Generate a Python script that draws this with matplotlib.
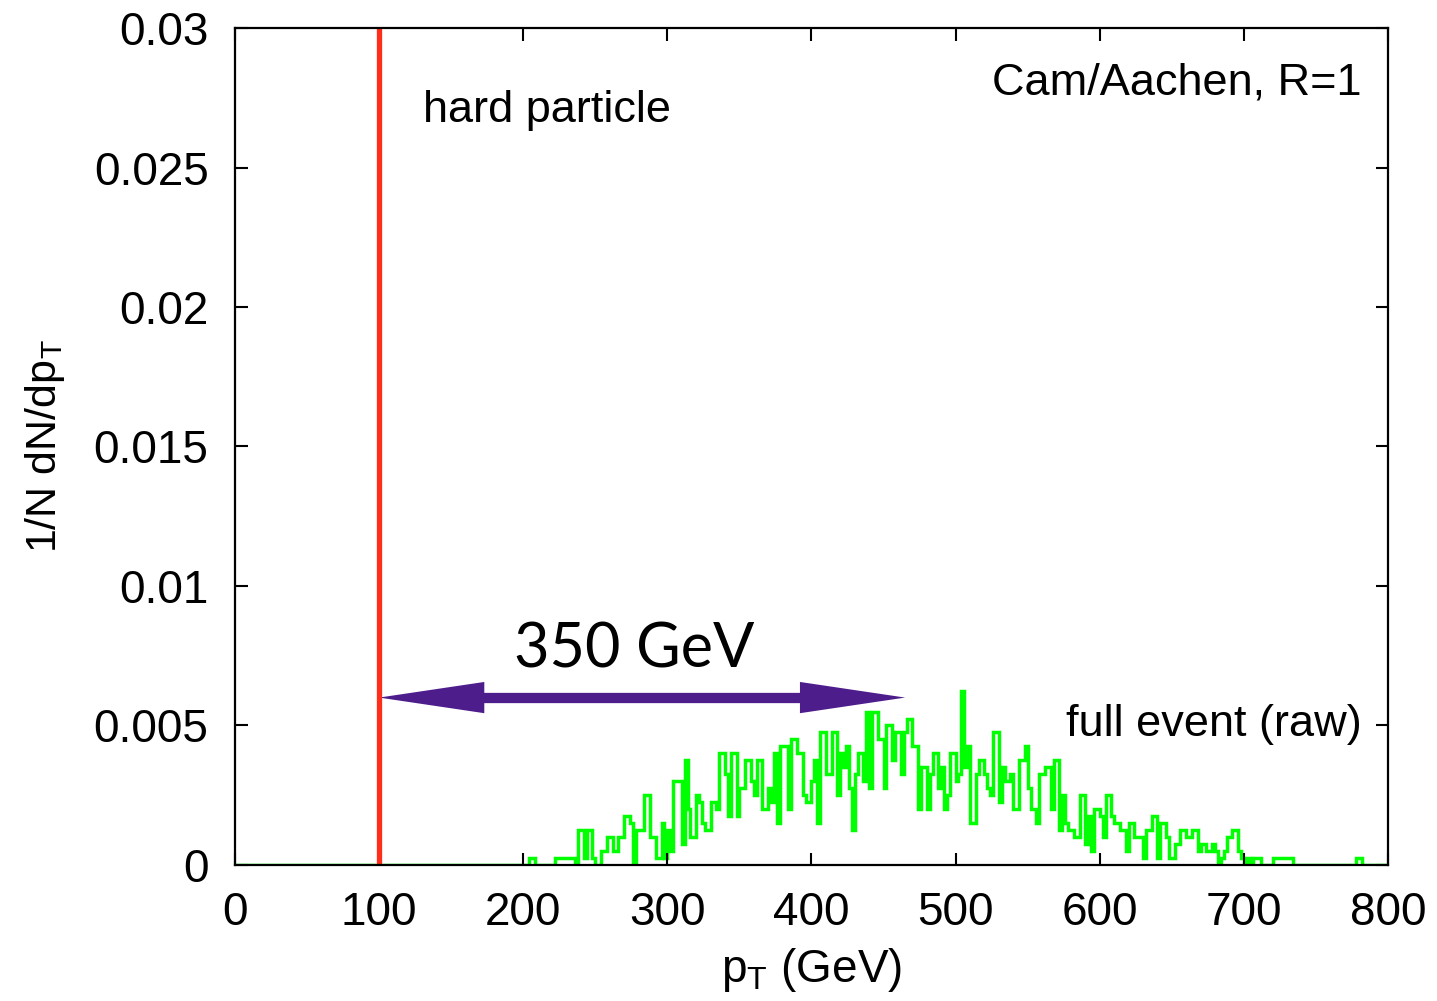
import numpy as np
import matplotlib
matplotlib.use('Agg')
import matplotlib.pyplot as plt
from matplotlib.patches import FancyArrow

plt.rcParams['font.family'] = ['Liberation Sans', 'DejaVu Sans']
plt.rcParams['mathtext.default'] = 'regular'

# hard particle pT (GeV)
hard_pt = 100
# arrow: from hard particle to ~ shifted jet pT
arrow_end = 465
arrow_y = 0.006

bin_width = 2
count_unit = 0.00025
counts_below_200 = [0] * 100
counts_from_200 = [
    0, 0, 1, 1, 0, 0, 0, 0, 0, 0,
    0, 1, 1, 1, 1, 1, 1, 1, 0, 5,
    5, 1, 5, 5, 1, 0, 0, 2, 2, 4,
    4, 2, 2, 4, 4, 7, 7, 6, 0, 5,
    5, 5, 10, 10, 4, 4, 1, 1, 6, 1,
    5, 2, 12, 12, 12, 3, 15, 8, 4, 4,
    10, 9, 6, 5, 5, 9, 9, 8, 16, 16,
    13, 7, 16, 16, 7, 11, 11, 15, 15, 12,
    10, 15, 15, 8, 8, 11, 9, 16, 6, 17,
    17, 17, 8, 18, 18, 16, 16, 10, 9, 9,
    12, 15, 6, 19, 19, 13, 13, 19, 19, 10,
    16, 14, 17, 11, 5, 13, 16, 16, 12, 22,
    11, 22, 22, 18, 18, 11, 20, 20, 15, 19,
    19, 13, 19, 21, 21, 17, 17, 8, 14, 14,
    8, 13, 16, 16, 11, 14, 8, 10, 16, 16,
    12, 13, 25, 14, 17, 6, 6, 13, 15, 15,
    13, 11, 10, 19, 19, 9, 14, 12, 12, 13,
    8, 8, 15, 15, 17, 11, 8, 8, 6, 13,
    13, 14, 14, 8, 15, 15, 5, 10, 6, 5,
    5, 4, 4, 10, 10, 3, 7, 2, 8, 8,
    7, 4, 10, 10, 7, 6, 6, 5, 5, 2,
    6, 6, 4, 4, 4, 1, 5, 5, 7, 7,
    1, 6, 6, 4, 1, 1, 3, 3, 5, 5,
    4, 4, 5, 5, 2, 3, 3, 2, 2, 3,
    2, 0, 1, 2, 4, 4, 5, 5, 2, 1,
    0, 1, 0, 1, 1, 1, 0, 0, 0, 0,
    1, 1, 1, 1, 1, 1, 1, 0, 0, 0,
    0, 0, 0, 0, 0, 0, 0, 0, 0, 0,
    0, 0, 0, 0, 0, 0, 0, 0, 0, 1,
    1, 0, 0, 0, 0, 0, 0, 0, 0, 0,
]

xticks = [0, 100, 200, 300, 400, 500, 600, 700, 800]
yticks = [0, 0.005, 0.01, 0.015, 0.02, 0.025, 0.03]
ytick_labels = ['0', '0.005', '0.01', '0.015', '0.02', '0.025', '0.03']

valores = np.array(counts_below_200 + counts_from_200) * count_unit
bordes = np.arange(0, 800 + bin_width, bin_width)

fig = plt.figure(figsize=(14.37, 10.01), dpi=100)
ax = fig.add_axes([0.1635, 0.1359, 0.8024, 0.8361])

ax.stairs(valores, bordes, color='#00ff00', lw=2.5)
ax.plot([hard_pt, hard_pt], [0, 0.03], color='#ff2d1a', lw=3.8, solid_capstyle='butt')

# double headed arrow: shaft as a thick line, heads as filled triangles
color_flecha = '#4e1d8c'
largo_punta = 73
ax.plot([hard_pt + largo_punta - 2, arrow_end - largo_punta + 2], [arrow_y, arrow_y],
        color=color_flecha, lw=7.4, solid_capstyle='butt')
for destino, signo in ((hard_pt, -1), (arrow_end, 1)):
    ax.add_patch(FancyArrow(destino - signo * largo_punta, arrow_y, signo * largo_punta, 0,
                            width=0, head_width=0.00112, head_length=largo_punta,
                            length_includes_head=True, lw=0, color=color_flecha))
ax.text(277, 0.0077, '350 GeV', fontsize=44, family=['Lato', 'DejaVu Sans'],
        ha='center', va='center')

ax.text(130.5, 0.02706, 'hard particle', fontsize=32.5, ha='left', va='center')
ax.text(782, 0.02803, 'Cam/Aachen, R=1', fontsize=32.5, ha='right', va='center')
ax.text(782, 0.00502, 'full event (raw)', fontsize=32.5, ha='right', va='center')

ax.set_xlim(0, 800)
ax.set_ylim(0, 0.03)
ax.set_xticks(xticks)
ax.set_yticks(yticks)
ax.set_yticklabels(ytick_labels)
ax.tick_params(direction='in', length=9, width=1.5, labelsize=33, pad=19,
               top=True, right=True)
for s in ax.spines.values():
    s.set_linewidth(1.6)

ax.set_xlabel('p$_T$ (GeV)', fontsize=33)
ax.set_ylabel('1/N dN/dp$_T$', fontsize=31)
ax.xaxis.set_label_coords(0.5, -0.125)
ax.xaxis.label.set_va('center')
ax.yaxis.set_label_coords(-0.165, 0.5)
ax.yaxis.label.set_va('center')

fig.savefig('out.png', dpi=100)
